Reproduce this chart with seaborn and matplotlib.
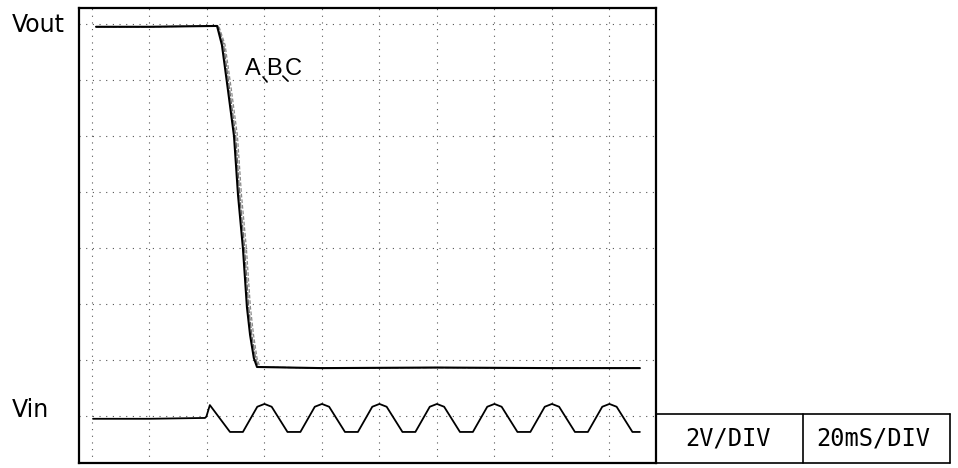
import matplotlib
matplotlib.use("Agg")
import matplotlib.pyplot as plt
import seaborn as sns
from matplotlib.lines import Line2D

# ---- data (time in ms, voltage in V; 20 ms/div, 2 V/div) ----
vout_t_a = [1.4, 20, 43.5, 45.2, 47.3, 49.4, 50.8, 52.5, 53.9, 55.0, 56.3, 57.4, 80, 120, 160, 190.6]
vout_t_b = [1.4, 20, 43.8, 45.8, 47.9, 50.0, 51.4, 53.1, 54.5, 55.6, 56.9, 57.9, 80, 120, 160, 190.6]
vout_t_c = [1.4, 20, 44.1, 46.3, 48.5, 50.6, 52.0, 53.7, 55.1, 56.2, 57.4, 58.4, 80, 120, 160, 190.6]
vout_v = [13.9, 13.9, 13.93, 13.25, 11.64, 10.0, 7.89, 6.0, 3.89, 2.89, 2.07, 1.75, 1.71, 1.73, 1.71, 1.71]

vin_t = [0.35, 20, 39.3, 39.8, 41.0,
         48.0, 52.5, 57.5, 60.0, 62.5,
         68.0, 72.5, 77.5, 80.0, 82.5,
         88.0, 92.5, 97.5, 100.0, 102.5,
         108.0, 112.5, 117.5, 120.0, 122.5,
         128.0, 132.5, 137.5, 140.0, 142.5,
         148.0, 152.5, 157.5, 160.0, 162.5,
         168.0, 172.5, 177.5, 180.0, 182.5,
         188.0, 190.6]
vin_v = [-0.1, -0.1, -0.07, -0.02, 0.39,
         -0.57, -0.57, 0.33, 0.43, 0.33,
         -0.57, -0.57, 0.33, 0.43, 0.33,
         -0.57, -0.57, 0.33, 0.43, 0.33,
         -0.57, -0.57, 0.33, 0.43, 0.33,
         -0.57, -0.57, 0.33, 0.43, 0.33,
         -0.57, -0.57, 0.33, 0.43, 0.33,
         -0.57, -0.57, 0.33, 0.43, 0.33,
         -0.57, -0.57]

grid_t = [0, 20, 40, 60, 80, 100, 120, 140, 160, 180]
grid_v = [0, 2, 4, 6, 8, 10, 12, 14]

trace_labels = ["A", "B", "C"]
label_t = [56.0, 63.3, 69.9]
label_v = 12.18
scale_labels = ["2V/DIV", "20mS/DIV"]
channel_labels = ["Vout", "Vin"]

# ---- figure ----
sns.set_theme(style="white")
plt.rcParams["font.family"] = ["Liberation Sans", "DejaVu Sans"]
plt.rcParams["text.color"] = "black"

W, H = 958, 468
fig = plt.figure(figsize=(W / 100, H / 100), dpi=100)
fig.patch.set_facecolor("white")

def fx(x):
    return x / W

def fy(y):
    return 1 - y / H

ax = fig.add_axes([fx(79), fy(463), (656 - 79) / W, (463 - 8) / H])
ax.set_facecolor("white")

# graticule
for t in grid_t:
    ax.axvline(t, color="#555555", lw=0.8, ls=(0, (1, 5)), zorder=1)
for v in grid_v:
    ax.axhline(v, color="#555555", lw=0.8, ls=(0, (1, 5)), zorder=1)

# traces
sns.lineplot(x=vout_t_c, y=vout_v, ax=ax, color="#8a8a8a", lw=0.9,
             estimator=None, sort=False, ls=(0, (3, 1.5)), zorder=2)
sns.lineplot(x=vout_t_b, y=vout_v, ax=ax, color="#666666", lw=0.9,
             estimator=None, sort=False, ls=(0, (5, 1)), zorder=2)
sns.lineplot(x=vout_t_a, y=vout_v, ax=ax, color="black", lw=1.5,
             estimator=None, sort=False, zorder=3)
sns.lineplot(x=vin_t, y=vin_v, ax=ax, color="black", lw=1.3,
             estimator=None, sort=False, zorder=3)

ax.set_xlim(-4.52, 196.2)
ax.set_ylim(-1.679, 14.571)
ax.set_xticks([])
ax.set_yticks([])
ax.set_xlabel("")
ax.set_ylabel("")
for s in ax.spines.values():
    s.set_visible(True)
    s.set_color("black")
    s.set_linewidth(1.6)

# trace labels A B C with pointer marks
for lab, t in zip(trace_labels, label_t):
    ax.text(t, label_v, lab, fontsize=17, ha="center", va="baseline",
            color="black", zorder=4)
ax.plot([59.5, 60.9], [12.11, 11.93], color="black", lw=1.2)
ax.plot([66.4, 68.2], [12.14, 11.96], color="black", lw=1.2)

# channel labels
fig.text(fx(12), fy(25), channel_labels[0], fontsize=17, ha="left", va="center",
         family=["DejaVu Sans"], color="black")
fig.text(fx(12), fy(410), channel_labels[1], fontsize=17, ha="left", va="center",
         family=["DejaVu Sans"], color="black")

# scale box
lw_box = 1.2
fig.add_artist(Line2D([fx(656), fx(950)], [fy(414), fy(414)], color="black", lw=lw_box))
fig.add_artist(Line2D([fx(656), fx(950)], [fy(463), fy(463)], color="black", lw=lw_box))
fig.add_artist(Line2D([fx(803), fx(803)], [fy(414), fy(463)], color="black", lw=lw_box))
fig.add_artist(Line2D([fx(950), fx(950)], [fy(414), fy(463)], color="black", lw=lw_box))

fig.text(fx(728), fy(438), scale_labels[0], fontsize=17, ha="center", va="center",
         family=["DejaVu Sans Mono"], color="black")
fig.text(fx(873), fy(438), scale_labels[1], fontsize=17, ha="center", va="center",
         family=["DejaVu Sans Mono"], color="black")

fig.savefig("out.png", dpi=100, facecolor="white")
